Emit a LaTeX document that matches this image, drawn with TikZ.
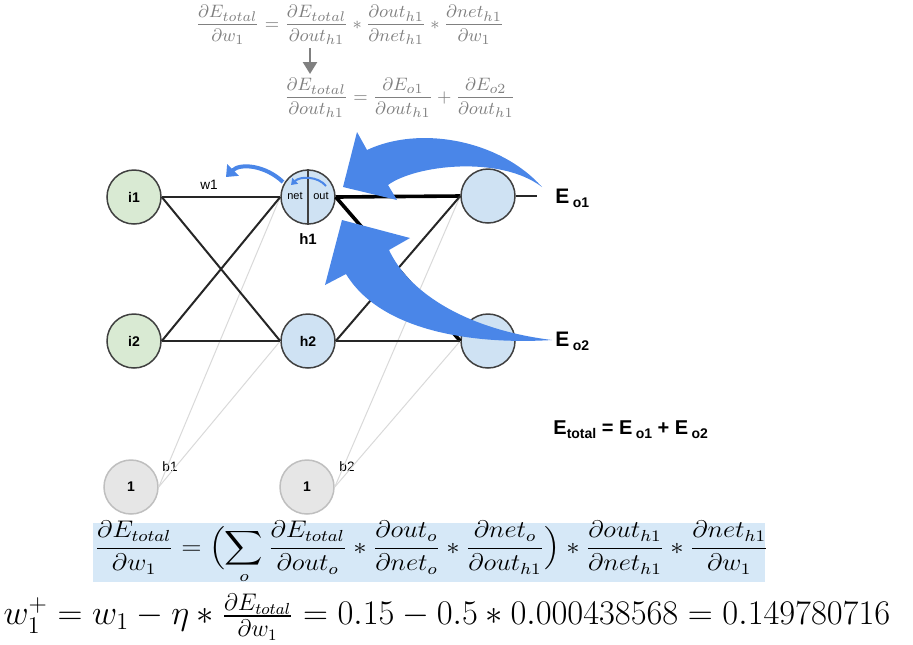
\documentclass[tikz,border=0pt]{standalone}
\usepackage{amsmath}
\usepackage{fontspec}
\newfontfamily\arial{Liberation Sans}
\usetikzlibrary{arrows.meta}

\definecolor{inputgreen}{HTML}{D9EAD3}
\definecolor{hiddenblue}{HTML}{CFE2F3}
\definecolor{biasgray}{HTML}{E6E6E6}
\definecolor{arrowblue}{HTML}{4A86E8}
\definecolor{hlblue}{HTML}{D6E8F7}
\definecolor{formulagray}{HTML}{808080}

\newcommand{\esub}[1]{\raisebox{-2pt}{\fontsize{7}{8}\selectfont #1}}

\begin{document}
\begin{tikzpicture}[
  x=0.5pt, y=-0.5pt,
  neuron/.style={circle, draw=black!75, line width=0.75pt, minimum size=27pt,
                 inner sep=0pt, font=\arial\bfseries\fontsize{7}{8}\selectfont},
  bias/.style={neuron, draw=black!25, fill=biasgray},
  wire/.style={line width=1pt, black!85},
  thickwire/.style={line width=1.8pt, black},
  biaswire/.style={line width=0.5pt, black!15},
  lbl/.style={inner sep=0pt, font=\arial\fontsize{6.8}{8}\selectfont},
  elbl/.style={inner sep=0pt, anchor=west, font=\arial\bfseries\fontsize{10.5}{12}\selectfont},
  grayformula/.style={inner sep=0pt, text=formulagray, font=\fontsize{9.4}{11}\selectfont}
]
  \useasboundingbox (0,0) rectangle (913,644);

  % top formulas
  \node[grayformula] (dEw) at (350,25)
    {$\dfrac{\partial E_{total}}{\partial w_1} = \dfrac{\partial E_{total}}{\partial out_{h1}} * \dfrac{\partial out_{h1}}{\partial net_{h1}} * \dfrac{\partial net_{h1}}{\partial w_1}$};
  \node[grayformula] (dEout) at (400,98)
    {$\dfrac{\partial E_{total}}{\partial out_{h1}} = \dfrac{\partial E_{o1}}{\partial out_{h1}} + \dfrac{\partial E_{o2}}{\partial out_{h1}}$};
  \coordinate (dn1) at (310,48);
  \coordinate (dn2) at (310,74);
  \draw[formulagray, line width=1.2pt, -{Triangle[width=7pt,length=6pt]}] (dn1) -- (dn2);

  % network
  \node[neuron, fill=inputgreen] (i1) at (134,197) {i1};
  \node[neuron, fill=inputgreen] (i2) at (134,341) {i2};
  \node[neuron, fill=hiddenblue] (h1) at (308,197) {};
  \node[neuron, fill=hiddenblue] (h2) at (308,341) {h2};
  \node[neuron, fill=hiddenblue] (o1) at (488,196) {};
  \node[neuron, fill=hiddenblue] (o2) at (488,341) {};
  \node[bias] (b1) at (131,487) {1};
  \node[bias] (b2) at (307,487) {1};
  \coordinate (o1out) at (537,196);

  \draw[line width=0.75pt, black!75] (h1.north) -- (h1.south);
  \node[lbl, font=\arial\fontsize{5.5}{6}\selectfont] (net) at (295,196) {net};
  \node[lbl, font=\arial\fontsize{5.5}{6}\selectfont] (out) at (321,196) {out};
  \node[lbl, font=\arial\bfseries\fontsize{7.5}{8}\selectfont] (h1lbl) at (308,239) {h1};
  \node[lbl] (w1) at (209,185) {w1};
  \node[lbl] (b1lbl) at (170,467) {b1};
  \node[lbl] (b2lbl) at (347,467) {b2};

  \draw[biaswire] (b1.east) -- (h1.west);
  \draw[biaswire] (b1.east) -- (h2.west);
  \draw[biaswire] (b2.east) -- (o1.west);
  \draw[biaswire] (b2.east) -- (o2.west);
  \draw[wire] (i1.east) -- (h1.west);
  \draw[wire] (i1.east) -- (h2.west);
  \draw[wire] (i2.east) -- (h1.west);
  \draw[wire] (i2.east) -- (h2.west);
  \draw[thickwire] (h1.east) -- (o1.west);
  \draw[thickwire] (h1.east) -- (o2.west);
  \draw[wire] (h2.east) -- (o1.west);
  \draw[wire] (h2.east) -- (o2.west);
  \draw[wire] (o1.east) -- (o1out);

  \node[elbl] (eo1) at (555,198) {E\,\esub{o1}};
  \node[elbl] (eo2) at (555,341) {E\,\esub{o2}};
  \node[elbl, font=\arial\bfseries\fontsize{10}{12}\selectfont] (etot) at (553,430)
    {E\esub{total} = E\,\esub{o1} + E\,\esub{o2}};

  % backprop arrows
  \fill[arrowblue] (343,187) -- (397,200) -- (388,185)
    .. controls (415,165) and (500,155) .. (542,187)
    .. controls (500,140) and (420,125) .. (367,150) -- (357,132) -- cycle;
  \fill[arrowblue] (342,220) -- (410,238) -- (389,250)
    .. controls (410,295) and (470,330) .. (552,340)
    .. controls (470,345) and (380,330) .. (346,274) -- (325,285) -- cycle;
  \draw[arrowblue, line width=2pt, -{Triangle[width=8pt,length=5pt]}]
    (283,182) .. controls (265,165) and (240,163) .. (226,177);
  \draw[arrowblue, line width=1pt, -{Triangle[width=4pt,length=3pt]}]
    (326,186) .. controls (318,176) and (300,176) .. (291,185);

  % bottom formulas
  \fill[hlblue] (93,523) rectangle (765,582);
  \node[inner sep=0pt, anchor=base west, font=\fontsize{11.5}{13}\selectfont] (chain) at (94,554)
    {\scalebox{1.11}[1]{$\displaystyle \frac{\partial E_{total}}{\partial w_1} = \Bigl(\sum_o \frac{\partial E_{total}}{\partial out_o} * \frac{\partial out_o}{\partial net_o} * \frac{\partial net_o}{\partial out_{h1}}\Bigr) * \frac{\partial out_{h1}}{\partial net_{h1}} * \frac{\partial net_{h1}}{\partial w_1}$}};
  \node[inner sep=0pt, font=\fontsize{16.7}{19}\selectfont] (update) at (447,617)
    {$w_1^+ = w_1 - \eta * \frac{\partial E_{total}}{\partial w_1} = 0.15 - 0.5 * 0.000438568 = 0.149780716$};
\end{tikzpicture}
\end{document}
